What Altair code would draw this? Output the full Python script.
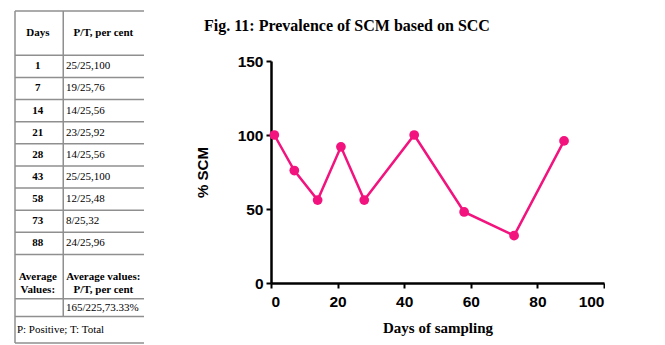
import altair as alt
import pandas as pd

# ---- data ----
days = [1, 7, 14, 21, 28, 43, 58, 73, 88]
pt_labels = ["25/25,100", "19/25,76", "14/25,56", "23/25,92", "14/25,56",
             "25/25,100", "12/25,48", "8/25,32", "24/25,96"]
percent = [100, 76, 56, 92, 56, 100, 48, 32, 96]
avg_label = "165/225,73.33%"
header_days = "Days"
header_pt = "P/T, per cent"
avg_head_1 = "Average\nValues:"
avg_head_2 = "Average values:\nP/T, per cent"
footnote = "P: Positive; T: Total"

PINK = "#F2137E"
GRID = "#8f8f8f"
SERIF = "Liberation Serif"
SANS = "Liberation Sans"

# ---- table layout (row units) ----
n = len(days)
hdr_h = 2.0
avg_h = 2.0
val_h = 0.8
foot_h = 1.2
total_h = hdr_h + n + avg_h + val_h + foot_h
col_div = 0.374
c1 = 0.177
c2 = 0.685
c2_left = 0.395

hy = [0.0, hdr_h] + [hdr_h + i + 1 for i in range(n)] + [hdr_h + n + avg_h, hdr_h + n + avg_h + val_h, total_h]
rules = [{"x": 0, "x2": 1, "y": v, "y2": v} for v in hy]
rules.append({"x": 0, "x2": 0, "y": 0, "y2": total_h})
rules.append({"x": col_div, "x2": col_div, "y": 0, "y2": hdr_h + n + avg_h + val_h})
rules_df = pd.DataFrame(rules)

PLOT_W, PLOT_H = 333, 222
TW = 129
TOP_OVER = 50      # table starts this far above the plot's top edge
TH = 282           # table height below the plot's top edge

xs = alt.Scale(domain=[0, 1], nice=False, zero=False)
ys = alt.Scale(domain=[0, total_h], nice=False, zero=False, range=[-TOP_OVER, TH])

rule_layer = alt.Chart(rules_df).mark_rule(color=GRID, strokeWidth=1.5).encode(
    x=alt.X("x:Q", scale=xs, axis=None),
    x2="x2:Q",
    y=alt.Y("y:Q", scale=ys, axis=None),
    y2="y2:Q",
)

bold_rows = [{"t": header_days, "x": c1, "y": hdr_h / 2},
             {"t": header_pt, "x": c2, "y": hdr_h / 2}]
bold_rows += [{"t": str(d), "x": c1, "y": hdr_h + i + 0.5} for i, d in enumerate(days)]
bold_rows += [{"t": avg_head_1, "x": c1, "y": hdr_h + n + avg_h / 2},
              {"t": avg_head_2, "x": c2, "y": hdr_h + n + avg_h / 2}]
bold_df = pd.DataFrame(bold_rows)

plain_rows = [{"t": s, "x": c2_left, "y": hdr_h + i + 0.5} for i, s in enumerate(pt_labels)]
plain_rows += [{"t": avg_label, "x": c2_left, "y": hdr_h + n + avg_h + val_h / 2}]
plain_df = pd.DataFrame(plain_rows)

foot_df = pd.DataFrame([{"t": footnote, "x": 0.015, "y": total_h - foot_h / 2}])

bold_layer = alt.Chart(bold_df).mark_text(
    font=SERIF, fontSize=11, fontWeight="bold", color="black",
    align="center", baseline="middle", lineBreak="\n", lineHeight=13
).encode(x=alt.X("x:Q", scale=xs, axis=None), y=alt.Y("y:Q", scale=ys, axis=None), text="t:N")

plain_layer = alt.Chart(plain_df).mark_text(
    font=SERIF, fontSize=11, color="black", align="left", baseline="middle"
).encode(x=alt.X("x:Q", scale=xs, axis=None), y=alt.Y("y:Q", scale=ys, axis=None), text="t:N")

foot_layer = alt.Chart(foot_df).mark_text(
    font=SERIF, fontSize=11, color="black", align="left", baseline="middle"
).encode(x=alt.X("x:Q", scale=xs, axis=None), y=alt.Y("y:Q", scale=ys, axis=None), text="t:N")

table = alt.layer(rule_layer, bold_layer, plain_layer, foot_layer).properties(width=TW, height=TH)

# ---- line chart ----
line_df = pd.DataFrame({"day": days, "pct": percent})

base = alt.Chart(line_df).encode(
    x=alt.X("day:Q",
            scale=alt.Scale(domain=[0, 100], nice=False),
            axis=alt.Axis(values=[0, 20, 40, 60, 80, 100], title="Days of sampling",
                          titleFont=SERIF, titleFontSize=15, titleFontWeight="bold",
                          titleColor="black", titlePadding=11, labelPadding=6)),
    y=alt.Y("pct:Q",
            scale=alt.Scale(domain=[0, 150], nice=False),
            axis=alt.Axis(values=[0, 50, 100, 150], title="% SCM",
                          titleFont=SANS, titleFontSize=15, titleFontWeight="bold",
                          titleColor="black", titlePadding=27, labelPadding=3)),
)

line = base.mark_line(color=PINK, strokeWidth=2.5)
pts = base.mark_circle(color=PINK, size=95, opacity=1)

plot = alt.layer(line, pts).properties(
    width=PLOT_W, height=PLOT_H,
    title=alt.Title("Fig. 11: Prevalence of SCM based on SCC",
                    font=SERIF, fontSize=16, fontWeight="bold", color="black",
                    anchor="start", frame="group", dx=-67, offset=20),
)

chart = alt.hconcat(table, plot, spacing=50).properties(
    padding={"left": 14, "top": 10, "right": 0, "bottom": 0}
).configure_view(stroke=None).configure_axis(
    grid=False, domainColor="black", domainWidth=2.5, tickColor="black",
    tickWidth=2, tickSize=5, labelFont=SANS, labelFontSize=15.5,
    labelFontWeight="bold", labelColor="black",
)

chart.save("out.html", embed_options={"renderer": "svg", "actions": False})
